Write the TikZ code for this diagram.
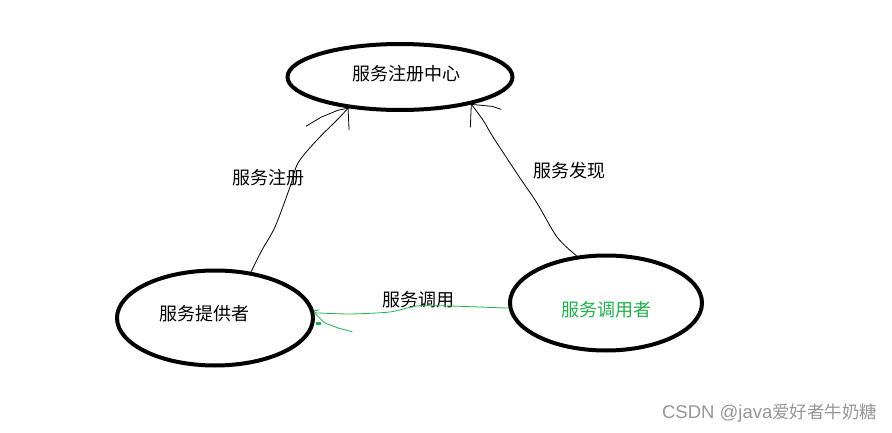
\documentclass[tikz,border=0pt]{standalone}
\usepackage{fontspec}
\setmainfont{Noto Sans CJK SC}
\newfontfamily\wmlatin{Liberation Sans}
\usetikzlibrary{shapes.geometric}
\definecolor{paintgreen}{RGB}{34,177,76}
\definecolor{wmgray}{RGB}{150,150,150}
\tikzset{
  oval/.style={ellipse, draw=black, line width=4pt, inner sep=0pt, font=\fontsize{18}{20}\selectfont},
  lbl/.style={inner sep=0pt, font=\fontsize{18}{20}\selectfont},
  conn/.style={line width=0.8pt, black},
  gconn/.style={line width=0.8pt, paintgreen}
}
\begin{document}
\begin{tikzpicture}[x=1pt,y=-1pt]
\useasboundingbox[fill=white] (0,0) rectangle (892,433);
% ellipses
\node[oval, minimum width=225pt, minimum height=66pt] (reg) at (400,77) {};
\node[lbl] at (406,74) {服务注册中心};
\node[oval, minimum width=196pt, minimum height=95pt] (prov) at (215,318) {};
\node[lbl] at (204,314) {服务提供者};
\node[oval, minimum width=192pt, minimum height=95pt] (cons) at (606,303) {};
\node[lbl, text=paintgreen] at (606,310) {服务调用者};
% edge labels
\node[lbl] (lreg) at (268,178) {服务注册};
\node[lbl] (ldisc) at (569,171) {服务发现};
\node[lbl] (lcall) at (418,300) {服务调用};
% provider -> registry
\draw[conn] plot[smooth, tension=0.5] coordinates {(prov.52) (262,250) (275,227) (290,187) (298,163) (317,140) (337,120) (reg.211)};
\draw[conn] (reg.211) -- ++(-10,2) -- ++(-17,7) -- ++(-15,9);
\draw[conn] (reg.211) -- ++(1,22);
% consumer -> registry
\draw[conn] plot[smooth, tension=0.5] coordinates {(cons.122) (557,237) (537,203) (520,178) (493,137) (483,120) (reg.-21)};
\draw[conn] (reg.-21) -- ++(21,2) -- ++(9,3);
\draw[conn] (reg.-21) -- ++(-1,23);
% consumer -> provider (green)
\draw[gconn] plot[smooth, tension=0.4] coordinates {(cons.183) (450,306) (417,306) (390,312) (350,314) (prov.3)};
\draw[gconn] (prov.3) -- ++(0,-2) -- ++(5,-1);
\draw[gconn] (prov.3) -- ++(10,10) -- ++(13,5) -- ++(15,4);
\fill[paintgreen] (316,322) rectangle (321,325);
% watermark
\node[inner sep=0pt, anchor=east, text=wmgray, font=\fontsize{17.4}{19}\selectfont] (wm) at (877,413) {{\wmlatin\fontsize{18.5}{19}\selectfont CSDN @java}爱好者牛奶糖};
\end{tikzpicture}
\end{document}
